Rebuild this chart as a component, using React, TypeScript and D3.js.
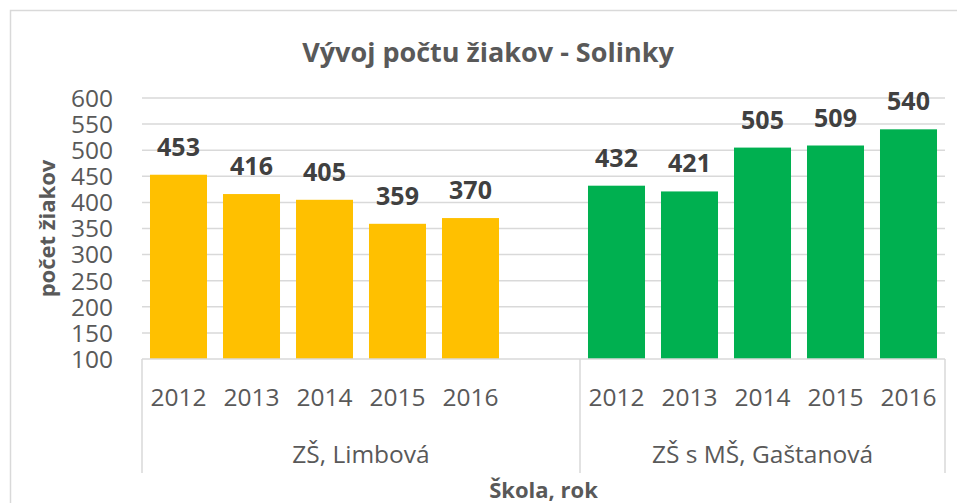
import React from 'react';
import * as d3 from 'd3';

const years = ['2012', '2013', '2014', '2015', '2016'];
const schools = ['ZŠ, Limbová', 'ZŠ s MŠ, Gaštanová'];
const limbova = [453, 416, 405, 359, 370];
const gastanova = [432, 421, 505, 509, 540];
const yTicks = [100, 150, 200, 250, 300, 350, 400, 450, 500, 550, 600];
const colors = ['#FFC000', '#00B050'];
const title = 'Vývoj počtu žiakov - Solinky';
const yTitle = 'počet žiakov';
const xTitle = 'Škola, rok';

const W = 957;
const H = 503;
const FONT = "'Open Sans', sans-serif";

export default function App() {
  const series = [limbova, gastanova];
  const slots: string[] = [];
  schools.forEach((s, gi) => {
    years.forEach((yr) => slots.push(`${gi}-${yr}`));
    if (gi < schools.length - 1) slots.push(`${gi}-gap`);
  });
  const left = 142;
  const right = 945;
  const top = 98;
  const bottom = 359;
  const x = d3.scaleBand<string>().domain(slots).range([left, right]).paddingInner(0.219).paddingOuter(0.1095);
  const y = d3.scaleLinear().domain([100, 600]).range([bottom, top]);
  const step = x.step();
  const half = (step - x.bandwidth()) / 2;

  const bars: { key: string; v: number; gi: number; yr: string }[] = [];
  schools.forEach((s, gi) => {
    years.forEach((yr, i) => bars.push({ key: `${gi}-${yr}`, v: series[gi][i], gi, yr }));
  });

  const groupStart = (gi: number) => (x(`${gi}-${years[0]}`) as number) - half;
  const groupEnd = (gi: number) =>
    gi < schools.length - 1 ? groupStart(gi + 1) : right;
  const seps = [left, ...schools.slice(1).map((_, i) => groupStart(i + 1)), right];

  return (
    <svg width={W} height={H} style={{ position: 'absolute', left: 0, top: 0, background: '#fff' }}>
      <rect x={10.5} y={10.5} width={980} height={520} fill="#fff" stroke="#D9D9D9" strokeWidth={1.5} />
      <text x={488} y={62} textAnchor="middle" fontFamily={FONT} fontWeight="bold" fontSize={27} fill="#595959">
        {title}
      </text>
      {yTicks.map((t) => (
        <g key={t}>
          {t > 100 && (
            <line x1={left} x2={right} y1={y(t)} y2={y(t)} stroke="#D9D9D9" strokeWidth={1.5} />
          )}
          <text x={113} y={y(t)} dy="0.36em" textAnchor="end" fontFamily={FONT} fontSize={24.5} fill="#595959">
            {t}
          </text>
        </g>
      ))}
      {bars.map((b) => (
        <g key={b.key}>
          <rect
            x={x(b.key)}
            width={x.bandwidth()}
            y={y(b.v)}
            height={y(100) - y(b.v)}
            fill={colors[b.gi]}
          />
          <text
            x={(x(b.key) as number) + x.bandwidth() / 2}
            y={y(b.v) - 19}
            textAnchor="middle"
            fontFamily={FONT}
            fontWeight="bold"
            fontSize={25}
            fill="#404040"
          >
            {b.v}
          </text>
          <text
            x={(x(b.key) as number) + x.bandwidth() / 2}
            y={406}
            textAnchor="middle"
            fontFamily={FONT}
            fontSize={24.5}
            fill="#595959"
          >
            {b.yr}
          </text>
        </g>
      ))}
      <line x1={left} x2={right} y1={bottom} y2={bottom} stroke="#D9D9D9" strokeWidth={1.5} />
      {seps.map((sx, i) => (
        <line key={i} x1={sx} x2={sx} y1={bottom} y2={473} stroke="#D9D9D9" strokeWidth={1.5} />
      ))}
      {schools.map((s, gi) => (
        <text
          key={s}
          x={(groupStart(gi) + groupEnd(gi)) / 2}
          y={463}
          textAnchor="middle"
          fontFamily={FONT}
          fontSize={24.5}
          fill="#595959"
        >
          {s}
        </text>
      ))}
      <text x={(left + right) / 2} y={498} textAnchor="middle" fontFamily={FONT} fontWeight="bold" fontSize={22} fill="#595959">
        {xTitle}
      </text>
      <text
        transform={`translate(55,${(top + bottom) / 2}) rotate(-90)`}
        textAnchor="middle"
        fontFamily={FONT}
        fontWeight="bold"
        fontSize={22}
        fill="#595959"
      >
        {yTitle}
      </text>
    </svg>
  );
}
